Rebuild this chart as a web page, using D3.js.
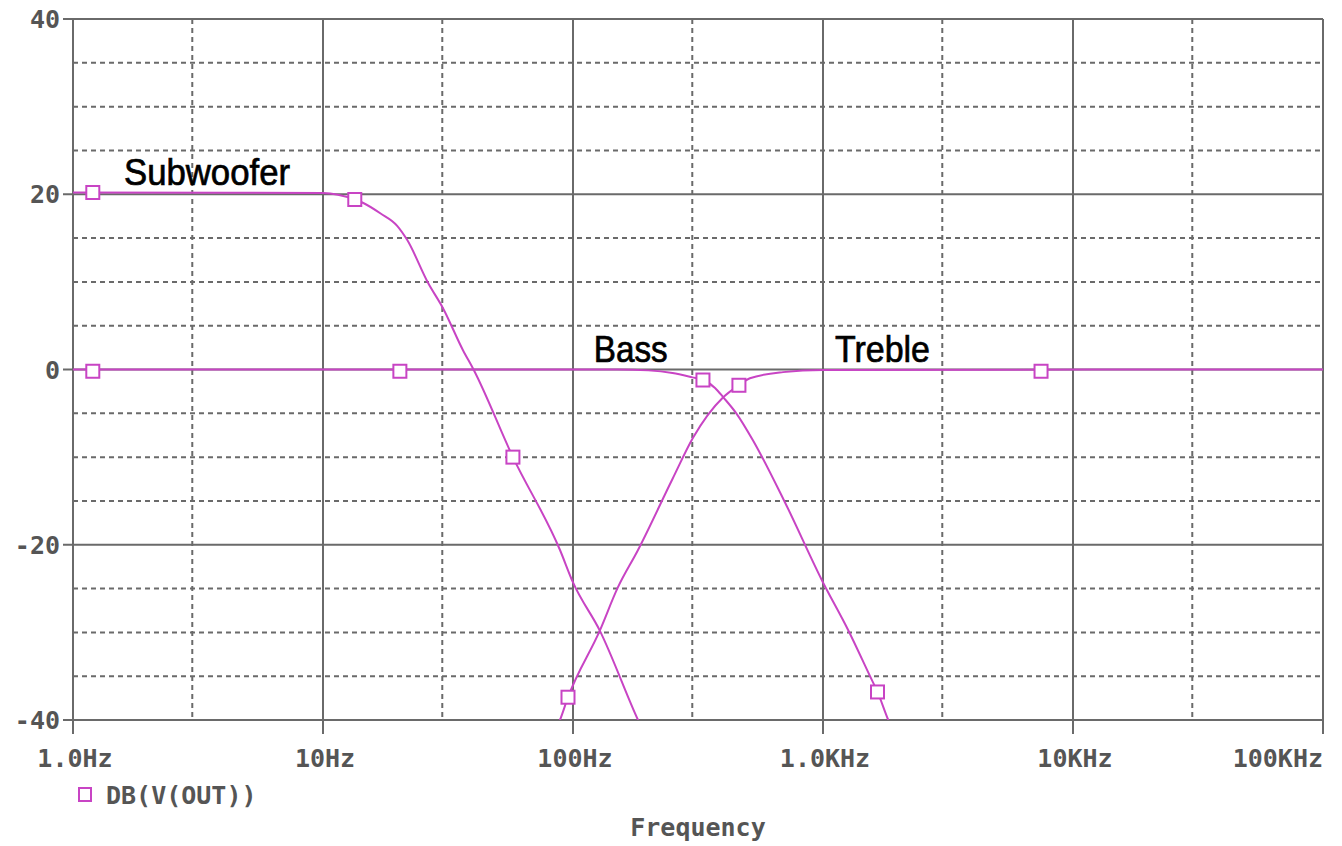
<!DOCTYPE html>
<html lang="en">
<head>
  <meta charset="UTF-8">
  <title>DB(V(OUT))</title>
  <script src="https://d3js.org/d3.v7.min.js"></script>
  <style>
    body { margin: 0; background: #fff; }
    .tick-label { font-family: "DejaVu Sans Mono", monospace; font-weight: bold; font-size: 25px; fill: #555; }
    .curve-label { font-family: "Liberation Sans", Arial, sans-serif; font-size: 37px; fill: #000; stroke: #000; stroke-width: 0.7px; }
  </style>
</head>
<body>
<div class="main"></div>
<script>
  // frequency (Hz), dB pairs
  var subwooferData = [[1, 20.2], [10, 20.15], [13.4, 19.4], [14.5, 19.0], [17, 17.8], [19.8, 16.4], [21.7, 14.8],
    [26.3, 9.9], [30.2, 7.0], [36.3, 2.2], [40, 0], [57.5, -10], [88.7, -20.6], [100, -24.3], [128, -29.8],
    [182, -40], [200, -42.5]];
  var bassData = [[1, 0], [150, 0], [200, -0.1], [250, -0.4], [300, -0.9], [331, -1.2], [370, -2.1], [400, -3.2],
    [450, -5.0], [525, -8.1], [700, -15], [1000, -24.3], [1259, -29.7], [1542, -35], [1652, -36.8], [1824, -40],
    [2000, -42.5]];
  var trebleData = [[80, -42.5], [88.7, -40], [95.5, -37.4], [128, -29.8], [151, -24.9], [182, -20.6], [250, -12.5],
    [302, -7.8], [398, -3.2], [461, -1.8], [510, -1.0], [692, -0.3], [1000, -0.05], [100000, 0]];

  // marker squares on the traces
  var subwooferMarkers = [[1.2, 20.2], [13.4, 19.4], [57.5, -10]];
  var bassMarkers = [[1.2, -0.2], [20.3, -0.2], [331, -1.2], [1652, -36.8]];
  var trebleMarkers = [[95.5, -37.4], [461, -1.8], [7450, -0.2]];

  var curveLabels = [["Subwoofer", 1.6, 21.1, 166], ["Bass", 121, 0.9, 74], ["Treble", 1117, 0.9, 95]];

  var xMajor = [1, 10, 100, 1000, 10000, 100000];
  var xMajorLabels = ["1.0Hz", "10Hz", "100Hz", "1.0KHz", "10KHz", "100KHz"];
  var xMinor = [3, 30, 300, 3000, 30000];
  var yMajor = [40, 20, 0, -20, -40];
  var yMinor = [35, 30, 25, 15, 10, 5, -5, -10, -15, -25, -30, -35];

  var width = 1342, height = 846;
  var plotLeft = 73, plotRight = 1323, plotTop = 19, plotBottom = 720;
  var traceColor = "#c844c4", gridColor = "#6a6a6a";

  var xScale = d3.scaleLog().domain([1, 100000]).range([plotLeft, plotRight]);
  var yScale = d3.scaleLinear().domain([-40, 40]).range([plotBottom, plotTop]);

  var svg = d3.select(".main").append("svg")
      .attr("width", width)
      .attr("height", height);

  svg.append("clipPath").attr("id", "plotClip")
      .append("rect").attr("x", plotLeft).attr("y", plotTop)
      .attr("width", plotRight - plotLeft).attr("height", plotBottom - plotTop);

  // dashed grid
  svg.append("g").selectAll("line").data(xMinor).join("line")
      .attr("x1", d => xScale(d)).attr("x2", d => xScale(d))
      .attr("y1", plotTop).attr("y2", plotBottom)
      .style("stroke", gridColor).style("stroke-width", 2).style("stroke-dasharray", "5,4");
  svg.append("g").selectAll("line").data(yMinor).join("line")
      .attr("x1", plotLeft).attr("x2", plotRight)
      .attr("y1", d => yScale(d)).attr("y2", d => yScale(d))
      .style("stroke", gridColor).style("stroke-width", 2).style("stroke-dasharray", "5,4");

  // solid grid + ticks
  svg.append("g").selectAll("line").data(xMajor).join("line")
      .attr("x1", d => xScale(d)).attr("x2", d => xScale(d))
      .attr("y1", plotTop).attr("y2", plotBottom + 14)
      .style("stroke", gridColor).style("stroke-width", 2);
  svg.append("g").selectAll("line").data(yMajor).join("line")
      .attr("x1", plotLeft - 10).attr("x2", plotRight)
      .attr("y1", d => yScale(d)).attr("y2", d => yScale(d))
      .style("stroke", gridColor).style("stroke-width", 2);

  // tick labels
  svg.append("g").selectAll("text").data(xMajor).join("text")
      .attr("class", "tick-label")
      .attr("x", (d, i) => i === xMajor.length - 1 ? xScale(d) : xScale(d) + 2)
      .attr("y", plotBottom + 47)
      .attr("text-anchor", (d, i) => i === xMajor.length - 1 ? "end" : "middle")
      .text((d, i) => xMajorLabels[i]);
  svg.append("g").selectAll("text").data(yMajor).join("text")
      .attr("class", "tick-label")
      .attr("x", plotLeft - 13).attr("y", d => yScale(d) + 9)
      .attr("text-anchor", "end")
      .text(d => d);

  svg.append("text").attr("class", "tick-label")
      .attr("x", 698).attr("y", 836).attr("text-anchor", "middle").text("Frequency");

  // legend
  svg.append("rect").attr("x", 79).attr("y", 788).attr("width", 12).attr("height", 13)
      .style("fill", "#fff").style("stroke", traceColor).style("stroke-width", 2);
  svg.append("text").attr("class", "tick-label").attr("x", 106).attr("y", 804).text("DB(V(OUT))");

  // traces
  var line = d3.line()
      .x(d => xScale(d[0]))
      .y(d => yScale(d[1]))
      .curve(d3.curveMonotoneX);

  var traceG = svg.append("g").attr("clip-path", "url(#plotClip)");
  [subwooferData, bassData, trebleData].forEach(function (data) {
    traceG.append("path").datum(data).attr("d", line)
        .style("fill", "none").style("stroke", traceColor).style("stroke-width", 2);
  });

  [subwooferMarkers, bassMarkers, trebleMarkers].forEach(function (markers) {
    svg.append("g").selectAll("rect").data(markers).join("rect")
        .attr("x", d => xScale(d[0]) - 6.5).attr("y", d => yScale(d[1]) - 6.5)
        .attr("width", 13).attr("height", 13)
        .style("fill", "#fff").style("stroke", traceColor).style("stroke-width", 2);
  });

  // curve names
  svg.append("g").selectAll("text").data(curveLabels).join("text")
      .attr("class", "curve-label")
      .attr("x", d => xScale(d[1])).attr("y", d => yScale(d[2]))
      .attr("textLength", d => d[3]).attr("lengthAdjust", "spacingAndGlyphs")
      .text(d => d[0]);
</script>
</body>
</html>
